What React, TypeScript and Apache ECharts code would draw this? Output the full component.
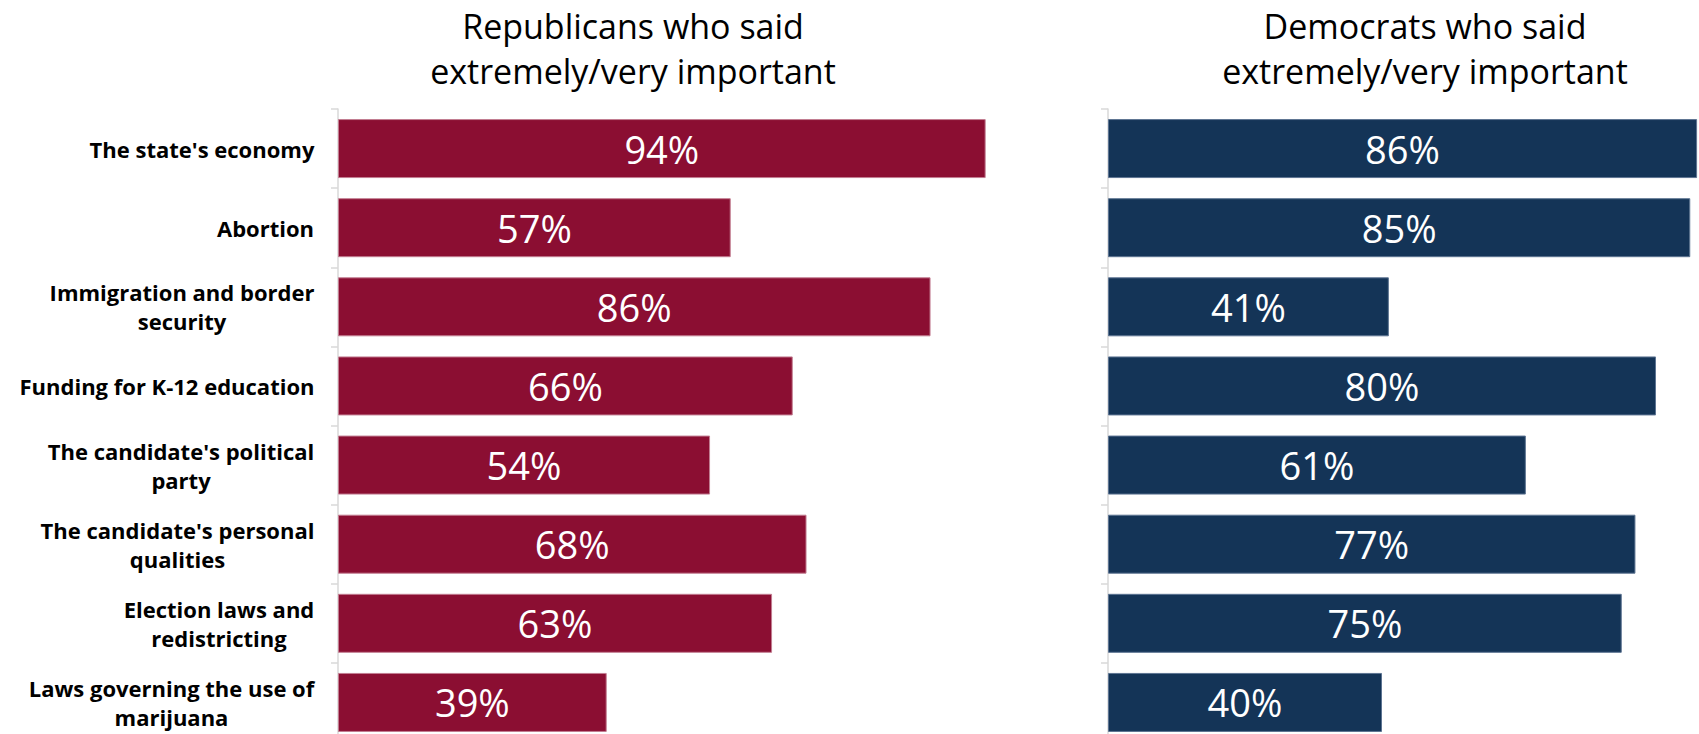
import React, { useEffect, useRef } from "react";
import * as echarts from "echarts";

const categories = [
  "The state's economy",
  "Abortion",
  "Immigration and border\nsecurity",
  "Funding for K-12 education",
  "The candidate's political\nparty",
  "The candidate's personal\nqualities",
  "Election laws and\nredistricting",
  "Laws governing the use of\nmarijuana",
];
const republicans = [94, 57, 86, 66, 54, 68, 63, 39];
const democrats = [86, 85, 41, 80, 61, 77, 75, 40];
const titleLeft = ["Republicans who said", "extremely/very important"];
const titleRight = ["Democrats who said", "extremely/very important"];

const RED = "#8b0e32";
const NAVY = "#143457";
const LABEL_FONT = "bold 22px 'Open Sans'";

export default function App() {
  const ref = useRef<HTMLDivElement>(null);
  useEffect(() => {
    if (!ref.current) return;
    const chart = echarts.init(ref.current, null, { renderer: "svg" });

    const ctx = document.createElement("canvas").getContext("2d")!;
    ctx.font = LABEL_FONT;
    const rich: Record<string, any> = {};
    categories.forEach((c, i) => {
      const w = Math.max(...c.split("\n").map((l) => ctx.measureText(l).width));
      rich["c" + i] = {
        width: Math.ceil(w) + 1,
        align: "center",
        fontFamily: "Open Sans",
        fontWeight: "bold",
        fontSize: 22,
        lineHeight: 29,
        color: "#000",
      };
    });

    const axisLineStyle = { color: "#d9d9d9", width: 1.5 };
    const yBase = (showLabel: boolean, gi: number) => ({
      type: "category",
      gridIndex: gi,
      data: categories,
      inverse: true,
      axisLine: { show: true, lineStyle: axisLineStyle },
      axisTick: { show: true, length: 7, lineStyle: axisLineStyle },
      axisLabel: showLabel
        ? {
            show: true,
            margin: 23,
            align: "right",
            formatter: (v: string, idx: number) =>
              v
                .split("\n")
                .map((l) => `{c${idx}|${l}}`)
                .join("\n"),
            rich,
          }
        : { show: false },
    });
    const xBase = (gi: number) => ({
      type: "value",
      gridIndex: gi,
      min: 0,
      max: 100,
      show: false,
    });
    const valueLabel = {
      show: true,
      position: "inside",
      color: "#fff",
      fontFamily: "Open Sans",
      fontSize: 38,
      formatter: (p: any) => p.value + "%",
    };
    const titleText = (lines: string[], x: number) =>
      lines.map((t, i) => ({
        type: "text",
        x,
        y: 26 + i * 45,
        style: {
          text: t,
          fill: "#000",
          font: "34px 'Open Sans'",
          align: "center",
          verticalAlign: "middle",
        },
      }));

    chart.setOption({
      animation: false,
      backgroundColor: "#fff",
      grid: [
        { left: 338, top: 109, width: 689, height: 633 },
        { left: 1108, top: 109, width: 685, height: 633 },
      ],
      xAxis: [xBase(0), xBase(1)],
      yAxis: [yBase(true, 0), yBase(false, 1)],
      graphic: [...titleText(titleLeft, 633), ...titleText(titleRight, 1425)],
      series: [
        {
          type: "bar",
          xAxisIndex: 0,
          yAxisIndex: 0,
          data: republicans,
          barWidth: 59,
          itemStyle: { color: RED, borderColor: "#c27d91", borderWidth: 1 },
          label: valueLabel,
        },
        {
          type: "bar",
          xAxisIndex: 1,
          yAxisIndex: 1,
          data: democrats,
          barWidth: 59,
          itemStyle: { color: NAVY, borderColor: "#5d7492", borderWidth: 1 },
          label: valueLabel,
        },
      ],
    });
    return () => chart.dispose();
  }, []);
  return (
    <div
      style={{
        position: "absolute",
        left: 0,
        top: 0,
        width: 1699,
        height: 734,
        overflow: "hidden",
      }}
    >
      <div ref={ref} style={{ width: 1820, height: 760 }} />
    </div>
  );
}
